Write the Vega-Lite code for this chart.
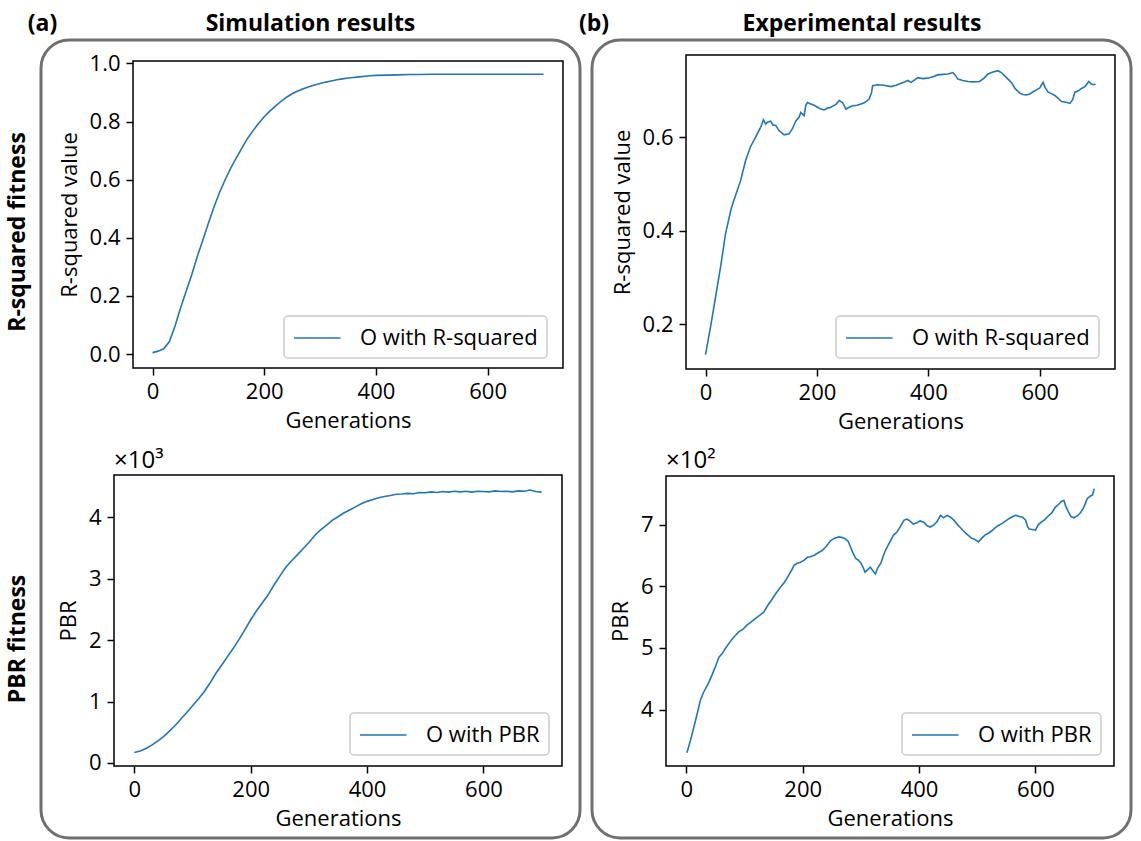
{
  "$schema": "https://vega.github.io/schema/vega-lite/v6.json",
  "autosize": {"type": "pad"},
  "padding": 0,
  "background": "white",
  "datasets": {
    "hdr": [
      {"tag": "(a)", "title": "Simulation results"},
      {"tag": "(b)", "title": "Experimental results"}
    ],
    "rows": [
      {"row": "R-squared fitness"},
      {"row": "PBR fitness"}
    ],
    "one": [{"t3": "×10³", "t2": "×10²"}],
    "simR": [
      {"g":0,"v":0.005},{"g":10,"v":0.010},{"g":20,"v":0.018},{"g":30,"v":0.042},{"g":40,"v":0.095},
      {"g":50,"v":0.158},{"g":60,"v":0.215},{"g":70,"v":0.272},{"g":80,"v":0.335},{"g":90,"v":0.392},
      {"g":100,"v":0.450},{"g":110,"v":0.506},{"g":120,"v":0.556},{"g":130,"v":0.600},{"g":140,"v":0.640},
      {"g":150,"v":0.675},{"g":160,"v":0.709},{"g":170,"v":0.742},{"g":180,"v":0.769},{"g":190,"v":0.794},
      {"g":200,"v":0.817},{"g":210,"v":0.836},{"g":220,"v":0.853},{"g":230,"v":0.870},{"g":240,"v":0.884},
      {"g":250,"v":0.896},{"g":260,"v":0.905},{"g":270,"v":0.913},{"g":280,"v":0.920},{"g":290,"v":0.926},
      {"g":300,"v":0.931},{"g":310,"v":0.936},{"g":320,"v":0.940},{"g":330,"v":0.944},{"g":340,"v":0.947},
      {"g":350,"v":0.950},{"g":360,"v":0.952},{"g":370,"v":0.954},{"g":380,"v":0.956},{"g":390,"v":0.958},
      {"g":400,"v":0.959},{"g":420,"v":0.960},{"g":440,"v":0.961},{"g":460,"v":0.962},{"g":480,"v":0.962},
      {"g":500,"v":0.963},{"g":550,"v":0.963},{"g":600,"v":0.963},{"g":650,"v":0.963},{"g":700,"v":0.963}
    ],
    "expR": [
      {"g":0,"v":0.135},{"g":9,"v":0.194},{"g":18,"v":0.258},{"g":27,"v":0.322},{"g":36,"v":0.394},
      {"g":46,"v":0.447},{"g":53,"v":0.472},{"g":63,"v":0.507},{"g":72,"v":0.55},{"g":81,"v":0.58},
      {"g":93,"v":0.607},{"g":99,"v":0.621},{"g":104,"v":0.637},{"g":108,"v":0.628},{"g":111,"v":0.632},
      {"g":117,"v":0.634},{"g":121,"v":0.626},{"g":126,"v":0.625},{"g":132,"v":0.614},{"g":141,"v":0.605},
      {"g":150,"v":0.607},{"g":156,"v":0.618},{"g":162,"v":0.634},{"g":168,"v":0.643},{"g":171,"v":0.653},
      {"g":177,"v":0.646},{"g":180,"v":0.668},{"g":183,"v":0.674},{"g":189,"v":0.671},{"g":195,"v":0.668},
      {"g":201,"v":0.664},{"g":207,"v":0.66},{"g":213,"v":0.658},{"g":219,"v":0.662},{"g":225,"v":0.664},
      {"g":234,"v":0.67},{"g":240,"v":0.678},{"g":246,"v":0.674},{"g":252,"v":0.66},{"g":258,"v":0.664},
      {"g":264,"v":0.667},{"g":272,"v":0.668},{"g":279,"v":0.671},{"g":286,"v":0.674},{"g":294,"v":0.682},
      {"g":298,"v":0.695},{"g":300,"v":0.71},{"g":309,"v":0.712},{"g":320,"v":0.711},{"g":333,"v":0.708},
      {"g":342,"v":0.711},{"g":351,"v":0.715},{"g":357,"v":0.718},{"g":363,"v":0.721},{"g":369,"v":0.717},
      {"g":375,"v":0.722},{"g":381,"v":0.727},{"g":390,"v":0.725},{"g":399,"v":0.726},{"g":408,"v":0.729},
      {"g":417,"v":0.733},{"g":426,"v":0.734},{"g":435,"v":0.735},{"g":444,"v":0.738},{"g":448,"v":0.733},
      {"g":453,"v":0.724},{"g":462,"v":0.721},{"g":471,"v":0.719},{"g":480,"v":0.718},{"g":492,"v":0.719},
      {"g":500,"v":0.726},{"g":507,"v":0.735},{"g":516,"v":0.739},{"g":525,"v":0.742},{"g":531,"v":0.738},
      {"g":537,"v":0.731},{"g":543,"v":0.724},{"g":549,"v":0.717},{"g":555,"v":0.705},{"g":558,"v":0.701},
      {"g":564,"v":0.694},{"g":570,"v":0.691},{"g":576,"v":0.69},{"g":582,"v":0.692},{"g":588,"v":0.697},
      {"g":594,"v":0.701},{"g":600,"v":0.705},{"g":606,"v":0.717},{"g":610,"v":0.705},{"g":615,"v":0.696},
      {"g":621,"v":0.693},{"g":627,"v":0.689},{"g":633,"v":0.683},{"g":639,"v":0.676},{"g":645,"v":0.675},
      {"g":654,"v":0.672},{"g":659,"v":0.68},{"g":663,"v":0.696},{"g":669,"v":0.699},{"g":675,"v":0.704},
      {"g":681,"v":0.708},{"g":688,"v":0.719},{"g":692,"v":0.714},{"g":696,"v":0.712},{"g":700,"v":0.713}
    ],
    "simP": [
      {"g":0,"v":169},{"g":10,"v":195},{"g":20,"v":235},{"g":30,"v":290},{"g":40,"v":355},
      {"g":50,"v":430},{"g":60,"v":515},{"g":70,"v":610},{"g":80,"v":715},{"g":90,"v":820},
      {"g":100,"v":930},{"g":110,"v":1040},{"g":120,"v":1160},{"g":130,"v":1300},{"g":140,"v":1455},
      {"g":150,"v":1590},{"g":160,"v":1730},{"g":170,"v":1865},{"g":180,"v":2010},{"g":190,"v":2170},
      {"g":200,"v":2330},{"g":210,"v":2475},{"g":220,"v":2605},{"g":230,"v":2735},{"g":240,"v":2895},
      {"g":250,"v":3040},{"g":260,"v":3180},{"g":270,"v":3285},{"g":280,"v":3385},{"g":290,"v":3485},
      {"g":300,"v":3585},{"g":310,"v":3700},{"g":320,"v":3790},{"g":330,"v":3865},{"g":340,"v":3945},
      {"g":350,"v":4005},{"g":360,"v":4065},{"g":370,"v":4115},{"g":380,"v":4165},{"g":390,"v":4215},
      {"g":400,"v":4255},{"g":410,"v":4285},{"g":420,"v":4315},{"g":430,"v":4335},{"g":440,"v":4350},
      {"g":450,"v":4370},{"g":460,"v":4375},{"g":470,"v":4385},{"g":480,"v":4380},{"g":490,"v":4400},
      {"g":500,"v":4395},{"g":510,"v":4410},{"g":520,"v":4400},{"g":530,"v":4415},{"g":540,"v":4405},
      {"g":550,"v":4420},{"g":560,"v":4410},{"g":570,"v":4420},{"g":580,"v":4405},{"g":590,"v":4420},
      {"g":600,"v":4415},{"g":610,"v":4410},{"g":620,"v":4425},{"g":630,"v":4415},{"g":640,"v":4420},
      {"g":650,"v":4410},{"g":660,"v":4425},{"g":670,"v":4420},{"g":680,"v":4440},{"g":690,"v":4415},
      {"g":700,"v":4405}
    ],
    "expP": [
      {"g":1,"v":330},{"g":7,"v":350},{"g":13,"v":372},{"g":19,"v":395},{"g":24,"v":415},
      {"g":29,"v":427},{"g":33,"v":434},{"g":38,"v":443},{"g":44,"v":456},{"g":50,"v":470},
      {"g":56,"v":485},{"g":61,"v":490},{"g":67,"v":499},{"g":73,"v":507},{"g":79,"v":515},
      {"g":85,"v":521},{"g":90,"v":526},{"g":97,"v":530},{"g":104,"v":537},{"g":111,"v":542},
      {"g":119,"v":548},{"g":126,"v":553},{"g":133,"v":558},{"g":138,"v":566},{"g":142,"v":572},
      {"g":146,"v":577},{"g":150,"v":583},{"g":156,"v":591},{"g":162,"v":599},{"g":169,"v":607},
      {"g":176,"v":618},{"g":182,"v":628},{"g":185,"v":634},{"g":190,"v":637},{"g":196,"v":639},
      {"g":202,"v":642},{"g":208,"v":647},{"g":213,"v":648},{"g":219,"v":650},{"g":226,"v":654},
      {"g":233,"v":658},{"g":240,"v":664},{"g":248,"v":674},{"g":255,"v":678},{"g":262,"v":680},
      {"g":268,"v":679},{"g":273,"v":677},{"g":278,"v":673},{"g":282,"v":664},{"g":286,"v":655},
      {"g":291,"v":645},{"g":296,"v":642},{"g":300,"v":638},{"g":304,"v":630},{"g":307,"v":623},
      {"g":312,"v":627},{"g":316,"v":631},{"g":320,"v":626},{"g":325,"v":620},{"g":329,"v":630},
      {"g":334,"v":637},{"g":338,"v":648},{"g":342,"v":658},{"g":346,"v":665},{"g":351,"v":674},
      {"g":356,"v":683},{"g":362,"v":688},{"g":368,"v":697},{"g":374,"v":707},{"g":379,"v":709},
      {"g":384,"v":706},{"g":390,"v":701},{"g":396,"v":703},{"g":402,"v":706},{"g":408,"v":704},
      {"g":414,"v":698},{"g":419,"v":696},{"g":425,"v":699},{"g":431,"v":705},{"g":437,"v":715},
      {"g":442,"v":711},{"g":448,"v":715},{"g":454,"v":712},{"g":460,"v":707},{"g":466,"v":700},
      {"g":472,"v":694},{"g":478,"v":688},{"g":484,"v":683},{"g":490,"v":678},{"g":496,"v":676},
      {"g":502,"v":672},{"g":508,"v":678},{"g":513,"v":683},{"g":519,"v":686},{"g":525,"v":690},
      {"g":531,"v":695},{"g":537,"v":699},{"g":543,"v":702},{"g":549,"v":706},{"g":555,"v":710},
      {"g":561,"v":713},{"g":566,"v":715},{"g":572,"v":713},{"g":578,"v":712},{"g":583,"v":707},
      {"g":586,"v":698},{"g":589,"v":693},{"g":595,"v":692},{"g":600,"v":691},{"g":605,"v":700},
      {"g":610,"v":704},{"g":616,"v":708},{"g":622,"v":714},{"g":628,"v":719},{"g":634,"v":728},
      {"g":640,"v":733},{"g":645,"v":738},{"g":649,"v":739},{"g":652,"v":730},{"g":657,"v":720},
      {"g":661,"v":713},{"g":666,"v":711},{"g":672,"v":714},{"g":678,"v":720},{"g":683,"v":728},
      {"g":689,"v":742},{"g":694,"v":746},{"g":698,"v":748},{"g":701,"v":758}
    ]
  },
  "vconcat": [
    {
      "width": 1141, "height": 40,
      "data": {"name": "hdr"},
      "layer": [
        {
          "mark": {"type": "text", "font": "Open Sans", "fontWeight": "bold", "fontSize": 23, "align": "center", "baseline": "alphabetic", "color": "black"},
          "encoding": {
            "x": {"field": "title", "type": "nominal", "sort": null, "scale": {"type": "point", "padding": 0.5344, "align": 0.5267}, "axis": null},
            "y": {"datum": "h", "type": "nominal", "scale": {"type": "point", "padding": 0, "align": 0.77}, "axis": null},
            "text": {"field": "title"}
          }
        },
        {
          "mark": {"type": "text", "font": "Open Sans", "fontWeight": "bold", "fontSize": 23, "align": "center", "baseline": "alphabetic", "color": "black"},
          "encoding": {
            "x": {"field": "tag", "type": "nominal", "sort": null, "scale": {"type": "point", "padding": 0.5344, "align": 0.0721}, "axis": null},
            "y": {"datum": "h", "type": "nominal", "scale": {"type": "point", "padding": 0, "align": 0.77}, "axis": null},
            "text": {"field": "tag"}
          }
        }
      ],
      "resolve": {"scale": {"x": "independent"}}
    },
    {
      "hconcat": [
        {
          "width": 41, "height": 798,
          "data": {"name": "rows"},
          "mark": {"type": "text", "font": "Open Sans", "fontWeight": "bold", "fontSize": 23, "angle": 270, "align": "center", "baseline": "middle", "color": "black"},
          "encoding": {
            "y": {"field": "row", "type": "nominal", "sort": null, "scale": {"type": "point", "padding": 0.4803, "align": 0.491}, "axis": null},
            "x": {"datum": "r", "type": "nominal", "scale": {"type": "point", "padding": 0, "align": 0.45}, "axis": null},
            "text": {"field": "row"}
          }
        },
        {
          "width": 539, "height": 798,
          "view": {"stroke": "#707070", "strokeWidth": 3, "cornerRadius": 28},
          "layer": [
            {
              "layer": [
                {
                  "data": {"name": "simR"},
                  "mark": {"type": "line", "strokeWidth": 1.6},
                  "encoding": {
                    "x": {"field": "g", "type": "quantitative", "scale": {"domain": [-35, 735], "range": [92, 522], "nice": false, "zero": false}, "axis": {"orient": "bottom", "offset": -470, "values": [0, 200, 400, 600], "format": "d", "title": "Generations"}},
                    "y": {"field": "v", "type": "quantitative", "scale": {"domain": [-0.048, 1.0086], "range": [328, 21], "nice": false, "zero": false}, "axis": {"orient": "left", "offset": -92, "values": [0, 0.2, 0.4, 0.6, 0.8, 1.0], "format": ".1f", "title": "R-squared value"}},
                    "color": {"datum": "O with R-squared", "type": "nominal", "scale": {"range": ["#1f77b4"]}, "legend": {"orient": "none", "legendX": 243, "legendY": 276}}
                  }
                },
                {
                  "data": {"name": "one"},
                  "mark": {"type": "rect", "filled": false, "color": "black", "strokeWidth": 1.5},
                  "encoding": {
                    "x": {"datum": -35, "type": "quantitative", "axis": {"orient": "bottom", "offset": -470, "values": [0, 200, 400, 600], "format": "d", "title": "Generations"}},
                    "x2": {"datum": 735},
                    "y": {"datum": -0.048, "type": "quantitative", "axis": {"orient": "left", "offset": -92, "values": [0, 0.2, 0.4, 0.6, 0.8, 1.0], "format": ".1f", "title": "R-squared value"}},
                    "y2": {"datum": 1.0086}
                  }
                }
              ]
            },
            {
              "layer": [
                {
                  "data": {"name": "simP"},
                  "mark": {"type": "line", "strokeWidth": 1.6},
                  "encoding": {
                    "x": {"field": "g", "type": "quantitative", "scale": {"domain": [-35, 735], "range": [73, 521], "nice": false, "zero": false}, "axis": {"orient": "bottom", "offset": -72, "values": [0, 200, 400, 600], "format": "d", "title": "Generations"}},
                    "y": {"field": "v", "type": "quantitative", "scale": {"domain": [-49, 4684], "range": [726, 435], "nice": false, "zero": false}, "axis": {"orient": "left", "offset": -73, "values": [0, 1000, 2000, 3000, 4000], "labelExpr": "format(datum.value / 1000, 'd')", "title": "PBR"}},
                    "color": {"datum": "O with PBR", "type": "nominal", "scale": {"range": ["#1f77b4"]}, "legend": {"orient": "none", "legendX": 309, "legendY": 673}}
                  }
                },
                {
                  "data": {"name": "one"},
                  "mark": {"type": "rect", "filled": false, "color": "black", "strokeWidth": 1.5},
                  "encoding": {
                    "x": {"datum": -35, "type": "quantitative", "axis": {"orient": "bottom", "offset": -72, "values": [0, 200, 400, 600], "format": "d", "title": "Generations"}},
                    "x2": {"datum": 735},
                    "y": {"datum": -49, "type": "quantitative", "axis": {"orient": "left", "offset": -73, "values": [0, 1000, 2000, 3000, 4000], "labelExpr": "format(datum.value / 1000, 'd')", "title": "PBR"}},
                    "y2": {"datum": 4684}
                  }
                },
                {
                  "data": {"name": "one"},
                  "mark": {"type": "text", "align": "left", "baseline": "alphabetic", "dy": -7, "font": "Open Sans", "fontSize": 24, "color": "black"},
                  "encoding": {
                    "x": {"datum": -35, "type": "quantitative", "axis": {"orient": "bottom", "offset": -72, "values": [0, 200, 400, 600], "format": "d", "title": "Generations"}},
                    "y": {"datum": 4684, "type": "quantitative", "axis": {"orient": "left", "offset": -73, "values": [0, 1000, 2000, 3000, 4000], "labelExpr": "format(datum.value / 1000, 'd')", "title": "PBR"}},
                    "text": {"field": "t3"}
                  }
                }
              ]
            }
          ],
          "resolve": {
            "scale": {"x": "independent", "y": "independent", "color": "independent"},
            "axis": {"x": "independent", "y": "independent"},
            "legend": {"color": "independent"}
          }
        },
        {"data": {"values": []}, "mark": "point", "width": 12, "height": 0.01},
        {
          "width": 539, "height": 798,
          "view": {"stroke": "#707070", "strokeWidth": 3, "cornerRadius": 28},
          "layer": [
            {
              "layer": [
                {
                  "data": {"name": "expR"},
                  "mark": {"type": "line", "strokeWidth": 1.6},
                  "encoding": {
                    "x": {"field": "g", "type": "quantitative", "scale": {"domain": [-35, 735], "range": [94, 523], "nice": false, "zero": false}, "axis": {"orient": "bottom", "offset": -469, "values": [0, 200, 400, 600], "format": "d", "title": "Generations"}},
                    "y": {"field": "v", "type": "quantitative", "scale": {"domain": [0.1045, 0.7755], "range": [329, 15], "nice": false, "zero": false}, "axis": {"orient": "left", "offset": -94, "values": [0.2, 0.4, 0.6], "format": ".1f", "title": "R-squared value"}},
                    "color": {"datum": "O with R-squared", "type": "nominal", "scale": {"range": ["#1f77b4"]}, "legend": {"orient": "none", "legendX": 244, "legendY": 276}}
                  }
                },
                {
                  "data": {"name": "one"},
                  "mark": {"type": "rect", "filled": false, "color": "black", "strokeWidth": 1.5},
                  "encoding": {
                    "x": {"datum": -35, "type": "quantitative", "axis": {"orient": "bottom", "offset": -469, "values": [0, 200, 400, 600], "format": "d", "title": "Generations"}},
                    "x2": {"datum": 735},
                    "y": {"datum": 0.1045, "type": "quantitative", "axis": {"orient": "left", "offset": -94, "values": [0.2, 0.4, 0.6], "format": ".1f", "title": "R-squared value"}},
                    "y2": {"datum": 0.7755}
                  }
                }
              ]
            },
            {
              "layer": [
                {
                  "data": {"name": "expP"},
                  "mark": {"type": "line", "strokeWidth": 1.6},
                  "encoding": {
                    "x": {"field": "g", "type": "quantitative", "scale": {"domain": [-35, 735], "range": [74, 522], "nice": false, "zero": false}, "axis": {"orient": "bottom", "offset": -72, "values": [0, 200, 400, 600], "format": "d", "title": "Generations"}},
                    "y": {"field": "v", "type": "quantitative", "scale": {"domain": [308.6, 778.8], "range": [726, 436], "nice": false, "zero": false}, "axis": {"orient": "left", "offset": -74, "values": [400, 500, 600, 700], "labelExpr": "format(datum.value / 100, 'd')", "title": "PBR"}},
                    "color": {"datum": "O with PBR", "type": "nominal", "scale": {"range": ["#1f77b4"]}, "legend": {"orient": "none", "legendX": 310, "legendY": 673}}
                  }
                },
                {
                  "data": {"name": "one"},
                  "mark": {"type": "rect", "filled": false, "color": "black", "strokeWidth": 1.5},
                  "encoding": {
                    "x": {"datum": -35, "type": "quantitative", "axis": {"orient": "bottom", "offset": -72, "values": [0, 200, 400, 600], "format": "d", "title": "Generations"}},
                    "x2": {"datum": 735},
                    "y": {"datum": 308.6, "type": "quantitative", "axis": {"orient": "left", "offset": -74, "values": [400, 500, 600, 700], "labelExpr": "format(datum.value / 100, 'd')", "title": "PBR"}},
                    "y2": {"datum": 778.8}
                  }
                },
                {
                  "data": {"name": "one"},
                  "mark": {"type": "text", "align": "left", "baseline": "alphabetic", "dy": -8, "font": "Open Sans", "fontSize": 24, "color": "black"},
                  "encoding": {
                    "x": {"datum": -35, "type": "quantitative", "axis": {"orient": "bottom", "offset": -72, "values": [0, 200, 400, 600], "format": "d", "title": "Generations"}},
                    "y": {"datum": 778.8, "type": "quantitative", "axis": {"orient": "left", "offset": -74, "values": [400, 500, 600, 700], "labelExpr": "format(datum.value / 100, 'd')", "title": "PBR"}},
                    "text": {"field": "t2"}
                  }
                }
              ]
            }
          ],
          "resolve": {
            "scale": {"x": "independent", "y": "independent", "color": "independent"},
            "axis": {"x": "independent", "y": "independent"},
            "legend": {"color": "independent"}
          }
        }
      ],
      "bounds": "flush",
      "spacing": 0
    }
  ],
  "bounds": "flush",
  "spacing": 0,
  "config": {
    "font": "Open Sans",
    "view": {"stroke": null},
    "axis": {
      "labelFont": "Open Sans", "labelFontSize": 22, "labelColor": "black",
      "titleFont": "Open Sans", "titleFontSize": 22, "titleFontWeight": "normal", "titleColor": "black",
      "tickColor": "black", "tickWidth": 1.5, "tickSize": 7, "labelPadding": 6,
      "titlePadding": 8, "domain": false, "grid": false, "labelFlush": false, "labelOverlap": false
    },
    "legend": {
      "title": null, "padding": 9, "labelLimit": 0,
      "strokeColor": "#cccccc", "strokeWidth": 1.5, "fillColor": "white", "cornerRadius": 4,
      "labelFont": "Open Sans", "labelFontSize": 22, "labelColor": "black",
      "symbolType": "M-1,0H2.875", "symbolSize": 576, "symbolStrokeWidth": 1.6, "labelOffset": 41
    }
  }
}
